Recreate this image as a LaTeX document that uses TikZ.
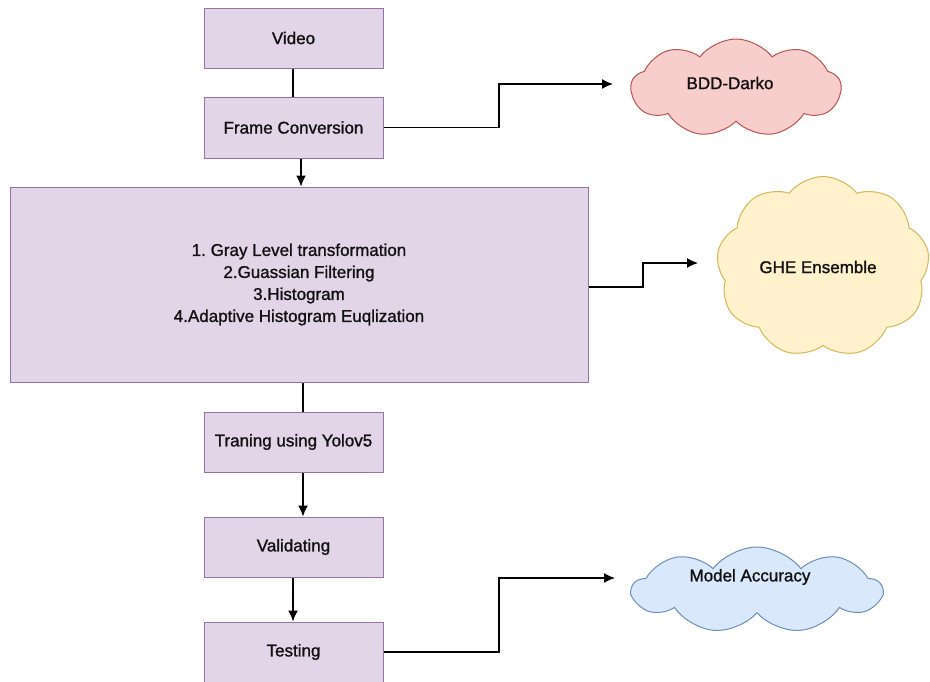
\documentclass[tikz,border=0pt]{standalone}
\usepackage{fontspec}
\setmainfont[FakeBold=1.2]{Liberation Sans}
\usetikzlibrary{arrows.meta,shapes.symbols}
\definecolor{boxfill}{HTML}{E1D5E7}
\definecolor{boxdraw}{HTML}{9673A6}
\definecolor{redfill}{HTML}{F8CECC}
\definecolor{reddraw}{HTML}{B85450}
\definecolor{yelfill}{HTML}{FFF2CC}
\definecolor{yeldraw}{HTML}{D6B656}
\definecolor{blufill}{HTML}{DAE8FC}
\definecolor{bludraw}{HTML}{6C8EBF}
\definecolor{txt}{HTML}{111111}
\frenchspacing
\begin{document}
\begin{tikzpicture}[x=1pt,y=-1pt,
  every node/.style={font=\fontsize{17}{22}\selectfont, text=txt},
  procbox/.style={draw=boxdraw, fill=boxfill, line width=1pt, minimum width=179pt, minimum height=60pt, inner sep=0pt},
  cloudbox/.style={cloud, cloud puffs=9, cloud puff arc=105, cloud ignores aspect, line width=1pt, inner sep=0pt},
  conn/.style={line width=1.4pt, black},
  arr/.style={conn, -{Latex[length=11pt,width=10pt]}}]
\clip (0,0) rectangle (930,681);
\useasboundingbox (0,0) rectangle (930,681);
\fill[white] (0,0) rectangle (930,681);

\node[procbox] (video) at (293.5,38) {Video};
\node[procbox, minimum height=61pt] (fc) at (293.5,127.5) {Frame Conversion};
\node[procbox, minimum width=578pt, minimum height=195pt, align=center] (big) at (299,284.5)
  {1. Gray Level transformation\\2.Guassian Filtering\\3.Histogram\\4.Adaptive Histogram Euqlization};
\node[procbox] (train) at (293.5,442) {Traning using Yolov5};
\node[procbox] (valid) at (293.5,547) {Validating};
\node[procbox] (test) at (293.5,652) {Testing};

\node[cloudbox, draw=reddraw, fill=redfill, minimum width=210pt, minimum height=98pt] (bdd) at (736,88) {};
\node (bddt) at (730,83) {BDD-Darko};
\node[cloudbox, draw=yeldraw, fill=yelfill, minimum width=213pt, minimum height=181pt] (ghe) at (823,267) {};
\node (ghet) at (818,267) {GHE Ensemble};
\node[cloudbox, draw=bludraw, fill=blufill, minimum width=249pt, minimum height=86pt] (acc) at (757,590) {};
\node (acct) at (750,577) {Model Accuracy};

\coordinate (bddin) at (613,84);
\coordinate (ghein) at (698,263);
\coordinate (accin) at (615,578);

\draw[conn] ([xshift=-0.5]video.south) -- ([xshift=-0.5]fc.north);
\draw[arr] ([xshift=7.5]fc.south) -- ([xshift=7.5]fc.south |- big.north);
\draw[conn] ([xshift=9.5]train.north) -- ([xshift=9.5]train.north |- big.south);
\draw[arr] ([xshift=9.5]train.south) -- ([xshift=9.5]valid.north);
\draw[arr] ([xshift=-0.5]valid.south) -- ([xshift=-0.5]test.north);

\draw[arr] (fc.east) -- (499,127.5) |- (bddin);
\draw[arr] ([yshift=-2.5]big.east) -- (643,287) |- (ghein);
\draw[arr] (test.east) -- (499,652) |- (accin);
\end{tikzpicture}
\end{document}
